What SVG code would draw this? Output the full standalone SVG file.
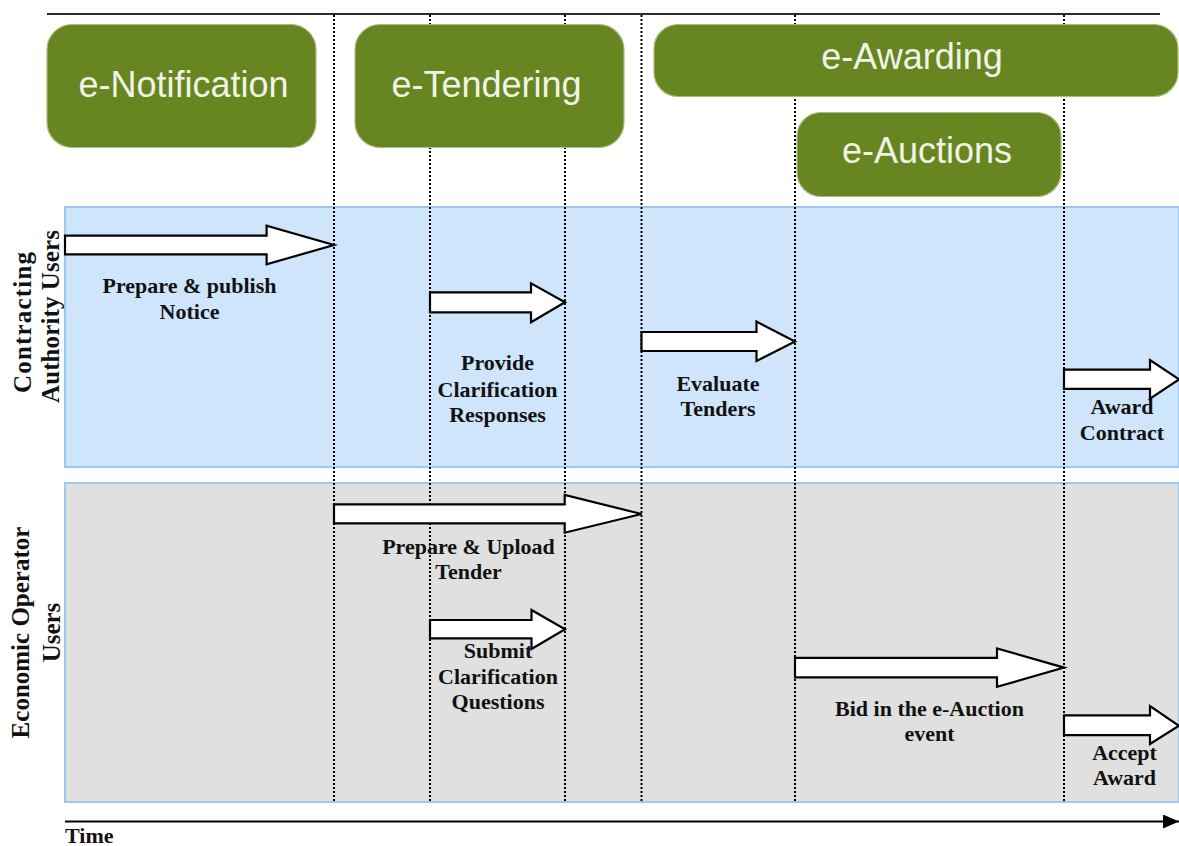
<svg xmlns="http://www.w3.org/2000/svg" width="1179" height="846" viewBox="0 0 1179 846">
<defs>
<style>
.phase{fill:#678520;stroke:#a7bd7c;stroke-width:1.2}
.ptxt{font-family:"Liberation Sans",Arial,sans-serif;font-size:36px;fill:#f1f3e6;text-anchor:middle}
.lane-ca{fill:#cfe5fc;stroke:#9cc8f4;stroke-width:2}
.lane-eo{fill:#e0e0e0;stroke:#9cc8f4;stroke-width:2}
.arrow{fill:#ffffff;stroke:#000000;stroke-width:2.2;stroke-linejoin:miter}
.lbl{font-family:"Liberation Serif","Times New Roman",serif;font-size:22px;font-weight:bold;fill:#111;text-anchor:middle}
.axis-lbl{font-family:"Liberation Serif","Times New Roman",serif;font-size:22px;font-weight:bold;fill:#111;text-anchor:start}
.lane-lbl{font-family:"Liberation Serif","Times New Roman",serif;font-size:25px;font-weight:bold;fill:#111}
.dot{stroke:#000;stroke-width:2;stroke-dasharray:2 2;fill:none}
</style>
<marker id="timehead" markerWidth="16" markerHeight="14" refX="16" refY="7" orient="auto" markerUnits="userSpaceOnUse">
<path d="M0,0 L16,7 L0,14 Z" fill="#000"/>
</marker>
</defs>
<rect width="1179" height="846" fill="#ffffff"/>
<line x1="47" y1="14" x2="1160" y2="14" stroke="#2b2b2b" stroke-width="2"/>
<g id="lanes">
<g id="lane-contracting-authority">
<rect class="lane-ca" x="65" y="207" width="1114" height="260"/>
<text class="lane-lbl" transform="translate(31,393) rotate(-90)" textLength="141" lengthAdjust="spacing">Contracting</text>
<text class="lane-lbl" transform="translate(59,403) rotate(-90)" textLength="173" lengthAdjust="spacing">Authority Users</text>
</g>
<g id="lane-economic-operator">
<rect class="lane-eo" x="65" y="483" width="1114" height="319"/>
<text class="lane-lbl" text-anchor="middle" transform="translate(29,632.5) rotate(-90)">Economic Operator</text>
<text class="lane-lbl" text-anchor="middle" transform="translate(60,632.5) rotate(-90)">Users</text>
</g>
</g>
<g id="connectors">
<line class="dot" x1="334" y1="15" x2="334" y2="802"/>
<line class="dot" x1="430" y1="15" x2="430" y2="802"/>
<line class="dot" x1="565" y1="15" x2="565" y2="802"/>
<line class="dot" x1="641.5" y1="15" x2="641.5" y2="802"/>
<line class="dot" x1="795" y1="15" x2="795" y2="802"/>
<line class="dot" x1="1064" y1="15" x2="1064" y2="802"/>
<g id="time-axis">
<line x1="65" y1="821.5" x2="1179" y2="821.5" stroke="#000" stroke-width="2.2" marker-end="url(#timehead)"/>
<text class="axis-lbl" x="65" y="843">Time</text>
</g>
</g>
<g id="phase-e-notification">
<rect class="phase" x="47" y="24.5" width="269" height="123" rx="25"/>
<text class="ptxt" x="183.5" y="97">e-Notification</text>
</g>
<g id="phase-e-tendering">
<rect class="phase" x="355" y="24.5" width="269" height="123" rx="25"/>
<text class="ptxt" x="486.5" y="97">e-Tendering</text>
</g>
<g id="phase-e-awarding">
<rect class="phase" x="654" y="24.5" width="524" height="72" rx="24"/>
<text class="ptxt" x="912" y="69">e-Awarding</text>
</g>
<g id="phase-e-auctions">
<rect class="phase" x="797" y="112.5" width="264" height="84" rx="24"/>
<text class="ptxt" x="927" y="163">e-Auctions</text>
</g>
<g id="act-prepare-publish">
<polygon class="arrow" points="65,235.7 266.6,235.7 266.6,225.7 334,245 266.6,264.3 266.6,254.3 65,254.3"/>
<text class="lbl" x="189.5" y="293.3">Prepare &amp; publish</text>
<text class="lbl" x="189.5" y="319">Notice</text>
</g>
<g id="act-provide-clarification">
<polygon class="arrow" points="430,292.3 531,292.3 531,283.3 565,302.3 531,322.3 531,312.3 430,312.3"/>
<text class="lbl" x="497.5" y="370">Provide</text>
<text class="lbl" x="497.5" y="396.5">Clarification</text>
<text class="lbl" x="497.5" y="422">Responses</text>
</g>
<g id="act-evaluate-tenders">
<polygon class="arrow" points="641.5,332 756.5,332 756.5,321.6 795,341.5 756.5,361 756.5,351 641.5,351"/>
<text class="lbl" x="718" y="390.5">Evaluate</text>
<text class="lbl" x="718" y="416">Tenders</text>
</g>
<g id="act-award-contract">
<polygon class="arrow" points="1064,369.7 1150,369.7 1150,360 1179,379.4 1150,398.6 1150,388.9 1064,388.9"/>
<text class="lbl" x="1122" y="414">Award</text>
<text class="lbl" x="1122" y="439.5">Contract</text>
</g>
<g id="act-prepare-upload">
<polygon class="arrow" points="334,504.3 564.7,504.3 564.7,495 641.5,514 564.7,532.7 564.7,523.3 334,523.3"/>
<text class="lbl" x="468.5" y="554">Prepare &amp; Upload</text>
<text class="lbl" x="468.5" y="579.3">Tender</text>
</g>
<g id="act-submit-clarification">
<polygon class="arrow" points="430,620 531.5,620 531.5,610 565,629.3 531.5,649 531.5,638.3 430,638.3"/>
<text class="lbl" x="498" y="658.3">Submit</text>
<text class="lbl" x="498" y="684">Clarification</text>
<text class="lbl" x="498" y="709.3">Questions</text>
</g>
<g id="act-bid-eauction">
<polygon class="arrow" points="795,657.8 997,657.8 997,648.4 1064,667.6 997,686.8 997,677.4 795,677.4"/>
<text class="lbl" x="929.5" y="716.4">Bid in the e-Auction</text>
<text class="lbl" x="929.5" y="741">event</text>
</g>
<g id="act-accept-award">
<polygon class="arrow" points="1064,715.3 1150,715.3 1150,706 1179,725.8 1150,744 1150,735.2 1064,735.2"/>
<text class="lbl" x="1124.5" y="760">Accept</text>
<text class="lbl" x="1124.5" y="785.4">Award</text>
</g>
</svg>
